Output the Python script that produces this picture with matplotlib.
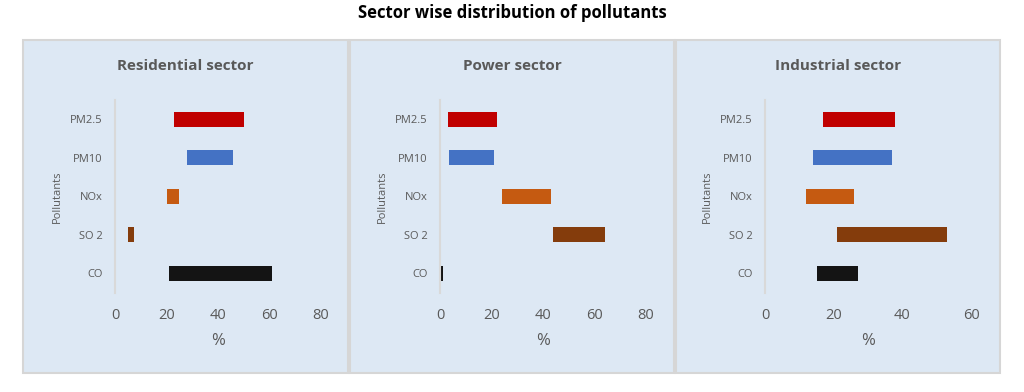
import matplotlib.pyplot as plt
from matplotlib.patches import Rectangle

plt.rcParams['font.family'] = ['Open Sans', 'DejaVu Sans']

# data: start and end of each floating bar (%)
pollutants = ['CO', 'SO 2', 'NOx', 'PM10', 'PM2.5']
colors = ['#141414', '#843c0c', '#c55a11', '#4472c4', '#c00000']

sectors = ['Residential sector', 'Power sector', 'Industrial sector']
res_start = [21, 5, 20, 28, 23]
res_end = [61, 7.5, 25, 46, 50]
pow_start = [0.5, 44, 24, 3.5, 3]
pow_end = [1.2, 64, 43, 21, 22]
ind_start = [15, 21, 12, 14, 17]
ind_end = [27, 53, 26, 37, 38]

starts = [res_start, pow_start, ind_start]
ends = [res_end, pow_end, ind_end]
xticks = [[0, 20, 40, 60, 80], [0, 20, 40, 60, 80], [0, 20, 40, 60]]

W, H = 1024, 392
fig = plt.figure(figsize=(W / 100, H / 100), dpi=100)
fig.patch.set_facecolor('white')

# panel boxes (pixels): left, right
panels = [(23, 348), (350, 674), (676, 1000)]
axes_left = [115, 440, 765]
top_px, bot_px = 40, 373

for (pl, pr) in panels:
    fig.patches.append(Rectangle((pl / W, 1 - bot_px / H), (pr - pl) / W, (bot_px - top_px) / H,
                                 transform=fig.transFigure, facecolor='#dde8f4',
                                 edgecolor='#d6d6d6', linewidth=1.5, zorder=-1))

fig.text(0.5, 1 - 13 / H, 'Sector wise distribution of pollutants', ha='center', va='center',
         fontsize=12, fontweight='bold', color='black')

grey = '#595959'
for i, name in enumerate(sectors):
    ax = fig.add_axes([axes_left[i] / W, 1 - 292.6 / H, 206 / W, 192.6 / H])
    ax.set_facecolor('none')
    s = starts[i]
    e = ends[i]
    widths = [b - a for a, b in zip(s, e)]
    ax.barh(range(len(pollutants)), widths, left=s, height=0.39, color=colors,
            edgecolor='none', zorder=2)
    ax.set_yticks(range(len(pollutants)))
    ax.set_yticklabels(pollutants)
    ax.set_ylim(-0.5, len(pollutants) - 0.5)
    ax.set_xticks(xticks[i])
    ax.set_xlim(xticks[i][0], xticks[i][-1])
    for sp in ['top', 'right', 'bottom']:
        ax.spines[sp].set_visible(False)
    ax.spines['left'].set_color('#d9d9d9')
    ax.spines['left'].set_linewidth(1.5)
    ax.tick_params(axis='both', length=0)
    ax.tick_params(axis='x', labelsize=10.5, labelcolor=grey, pad=11)
    ax.tick_params(axis='y', labelsize=8, labelcolor=grey, pad=9)
    ax.set_xlabel('%', fontsize=12, color=grey, labelpad=7)
    ax.set_ylabel('Pollutants', fontsize=8, color=grey)
    ax.yaxis.set_label_coords(-0.255, 0.5)
    pl, pr = panels[i]
    fig.text((pl + pr) / 2 / W, 1 - 66 / H, name, ha='center', va='center',
             fontsize=11, fontweight='bold', color=grey)

fig.savefig('out.png', dpi=100)
